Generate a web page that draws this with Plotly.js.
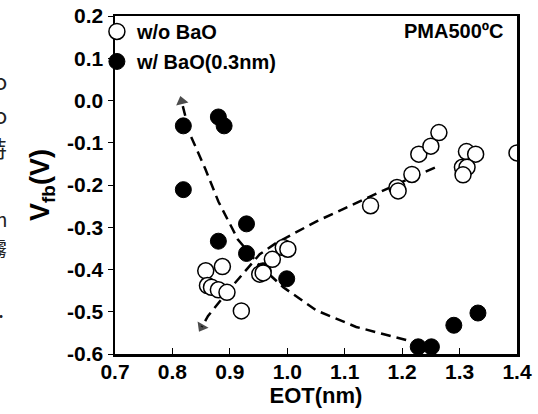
<!DOCTYPE html>
<html>
<head>
<meta charset="utf-8">
<script src="https://cdn.plot.ly/plotly-3.0.1.min.js"></script>
<style>html,body{margin:0;padding:0;background:#fff;}#chart{width:538px;height:414px;}</style>
</head>
<body>
<div id="chart"></div>
<script>
// w/o BaO (open circles)
const eotNoBaO = [0.858, 0.887, 0.861, 0.868, 0.880, 0.895, 0.920, 0.952, 0.958, 0.974, 0.993, 1.001,
                  1.145, 1.191, 1.193, 1.217, 1.229, 1.250, 1.264, 1.312, 1.328, 1.305, 1.313, 1.306, 1.400];
const vfbNoBaO = [-0.403, -0.393, -0.438, -0.442, -0.448, -0.454, -0.498, -0.411, -0.408, -0.376, -0.348, -0.352,
                  -0.249, -0.206, -0.214, -0.175, -0.127, -0.108, -0.076, -0.121, -0.127, -0.158, -0.158, -0.176, -0.124];
// w/ BaO(0.3nm) (filled circles)
const eotBaO = [0.819, 0.880, 0.890, 0.819, 0.929, 0.880, 0.929, 0.958, 0.999, 1.228, 1.251, 1.290, 1.332];
const vfbBaO = [-0.060, -0.039, -0.060, -0.211, -0.292, -0.333, -0.362, -0.403, -0.422, -0.583, -0.583, -0.532, -0.503];
// dashed trend guides (arrow at last point)
const trendBaOx = [1.207, 1.120, 1.051, 0.993, 0.952, 0.914, 0.880, 0.857, 0.830, 0.816];
const trendBaOy = [-0.567, -0.536, -0.497, -0.442, -0.391, -0.329, -0.239, -0.161, -0.078, -0.002];
const trendNoBaOx = [1.257, 1.201, 1.132, 1.051, 0.981, 0.952, 0.900, 0.862, 0.851];
const trendNoBaOy = [-0.159, -0.192, -0.235, -0.286, -0.337, -0.364, -0.446, -0.510, -0.536];

const yTicks = [0.2, 0.1, 0.0, -0.1, -0.2, -0.3, -0.4, -0.5, -0.6];
const yTickText = ['0.2', '0.1', '0.0', '-0.1', '-0.2', '-0.3', '-0.4', '-0.5', '-0.6'];
const xTicks = [0.7, 0.8, 0.9, 1.0, 1.1, 1.2, 1.3, 1.4];
const xTickText = ['0.7', '0.8', '0.9', '1.0', '1.1', '1.2', '1.3', '1.4'];

const F = 'Arial, "Liberation Sans", sans-serif';

function arrowSizes(n) { const s = []; for (let i = 0; i < n; i++) s.push(i === n - 1 ? 11 : 0); return s; }

const traces = [
  {x: trendBaOx, y: trendBaOy, mode: 'lines+markers', showlegend: false, hoverinfo: 'skip',
   line: {color: '#000', width: 2.5, dash: '10px,6px'},
   marker: {symbol: 'triangle-up', angleref: 'previous', size: arrowSizes(trendBaOx.length), color: '#000', line: {width: 0}}},
  {x: trendNoBaOx, y: trendNoBaOy, mode: 'lines+markers', showlegend: false, hoverinfo: 'skip',
   line: {color: '#000', width: 2.5, dash: '10px,6px'},
   marker: {symbol: 'triangle-up', angleref: 'previous', size: arrowSizes(trendNoBaOx.length), color: '#000', line: {width: 0}}},
  {x: eotBaO, y: vfbBaO, mode: 'markers', name: 'w/ BaO(0.3nm)', legendrank: 2, legendgroup: 'b',
   marker: {symbol: 'circle', size: 16, color: '#000', line: {color: '#000', width: 1}}},
  {x: eotNoBaO, y: vfbNoBaO, mode: 'markers', name: 'w/o BaO', legendrank: 1, legendgroup: 'a',
   marker: {symbol: 'circle', size: 16, color: '#fff', line: {color: '#000', width: 1.5}}}
];

function edgeText(t, py, right, size) {
  return {xref: 'paper', yref: 'paper', x: (right - 115) / 402, y: (354 - py) / 341,
          xanchor: 'right', yanchor: 'middle', text: t, showarrow: false,
          font: {family: '"Noto Sans CJK TC", "Noto Sans", sans-serif', size: size || 22, color: '#222'}};
}

const layout = {
  width: 538, height: 414,
  margin: {l: 115, r: 21, t: 13, b: 60},
  paper_bgcolor: '#fff', plot_bgcolor: '#fff',
  font: {family: F, color: '#000'},
  showlegend: true,
  legend: {x: -0.045, y: 1.012, xanchor: 'left', yanchor: 'top', traceorder: 'grouped', tracegroupgap: 1,
           bgcolor: 'rgba(0,0,0,0)', font: {family: F, size: 20, weight: 'bold', color: '#000'}},
  xaxis: {range: [0.7, 1.4], tickvals: xTicks, ticktext: xTickText, ticks: 'inside', ticklen: 6, tickwidth: 1,
          tickcolor: '#000', showline: true, linecolor: '#000', linewidth: 2.5, mirror: true,
          showgrid: false, zeroline: false, ticklabelstandoff: -3,
          tickfont: {family: F, size: 21, weight: 'bold'},
          title: {text: 'EOT(nm)', font: {family: F, size: 22, weight: 'bold'}, standoff: 2}},
  yaxis: {range: [-0.6, 0.2], tickvals: yTicks, ticktext: yTickText, ticks: 'outside', ticklen: 5, tickwidth: 1,
          tickcolor: '#000', showline: true, linecolor: '#000', linewidth: 2.5, mirror: true,
          showgrid: false, zeroline: false,
          tickfont: {family: F, size: 21, weight: 'bold'},
          title: {text: 'V<sub>fb</sub>(V)', font: {family: F, size: 27, weight: 'bold'}, standoff: 10}},
  annotations: [
    {xref: 'paper', yref: 'paper', x: 0.972, y: 0.955, xanchor: 'right', yanchor: 'middle', showarrow: false,
     text: 'PMA500ºC', font: {family: F, size: 20, weight: 'bold', color: '#000'}},
    edgeText('o', 78, 9),
    edgeText('o', 112, 9),
    edgeText('特', 145, 9),
    edgeText('m', 217, 10, 20),
    edgeText('霧', 248, 9, 20),
    edgeText('.', 308, 6)
  ]
};

Plotly.newPlot('chart', traces, layout, {displayModeBar: false, staticPlot: true});
</script>
</body>
</html>
